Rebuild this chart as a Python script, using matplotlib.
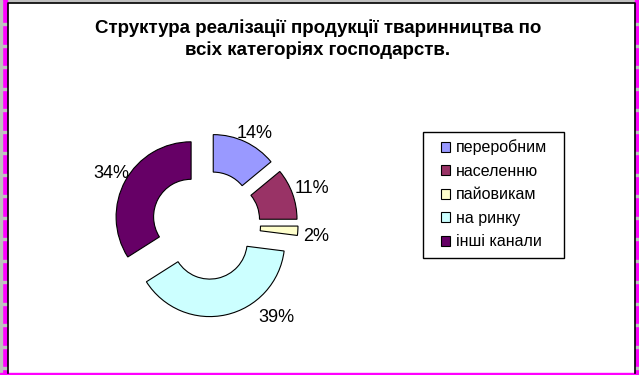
import numpy as np
import matplotlib.pyplot as plt
from matplotlib.patches import Rectangle

# data
channels = ['переробним', 'населенню', 'пайовикам', 'на ринку', 'інші канали']
shares = [14, 11, 2, 39, 34]
colors = ['#9999FF', '#993366', '#FFFFCC', '#CCFFFF', '#660066']
title = 'Структура реалізації продукції тваринництва по\nвсіх категоріях господарств.'

W, H = 639, 375
plt.rcParams['font.family'] = ['Liberation Sans', 'DejaVu Sans']

fig = plt.figure(figsize=(W / 100, H / 100), dpi=100)
fig.patch.set_facecolor('white')
ax = fig.add_axes([0, 0, 1, 1])

# pie geometry in pixels (y up); explode is in data units
cx, cy, R = 206, 150, 75
wedges, texts, autotexts = ax.pie(
    shares, colors=colors, startangle=90, counterclock=False,
    center=(cx, cy), radius=R, explode=[17] * len(shares),
    autopct='%d%%', pctdistance=1.24,
    wedgeprops=dict(width=R * 0.5, edgecolor='black', linewidth=0.8),
    textprops=dict(fontsize=13, color='black'))

# Excel places the labels itself; baseline offsets from the ring centre (px)
label_offsets = [(48.5, 87), (105.5, 32), (110.5, -16), (70, -97), (-94.5, 47)]
for t, (dx, dy) in zip(autotexts, label_offsets):
    t.set_position((cx + dx, cy + dy))
    t.set_verticalalignment('baseline')

ax.set_xlim(0, W)
ax.set_ylim(0, H)
ax.set_aspect('auto')
ax.axis('off')

# window frame
ax.add_patch(Rectangle((0, H - 2), W, 2, color='#C0C0C0', zorder=0))
ax.add_patch(Rectangle((0, 0), 7, H, color='#FF00FF', zorder=0))
ax.add_patch(Rectangle((0, 0), 2, H, color='#C0C0C0', zorder=0))
ax.add_patch(Rectangle((635, 0), 4, H, color='#FF00FF', zorder=0))
ax.add_patch(Rectangle((0, 0), W, 2, color='#FF00FF', zorder=0))
for y in np.arange(H - 25, 0, -21.5):
    ax.add_patch(Rectangle((2, y), 5, 2, color='#C0C0C0', zorder=0))
    ax.add_patch(Rectangle((635, y), 4, 2, color='#C0C0C0', zorder=0))
ax.plot([7.5, 7.5, 634.5, 634.5], [2, H - 2.5, H - 2.5, 2], color='black', lw=1.2)

fig.text(318 / W, 1 - 39 / H, title, ha='center', va='center',
         fontsize=13.5, fontweight='bold', linespacing=1.36)

# legend box drawn separately so the padding matches the original
ax.add_patch(Rectangle((422.5, H - 258), 141, 126, facecolor='white',
                       edgecolor='black', linewidth=1.0, zorder=1))
leg = fig.legend(wedges, channels, loc='center',
                 bbox_to_anchor=(494 / W, 1 - 194.5 / H),
                 fontsize=11.5, frameon=False,
                 handlelength=0.56, handleheight=0.56, handletextpad=0.4,
                 labelspacing=0.53, borderpad=0, borderaxespad=0)

fig.savefig('out.png', dpi=100)
